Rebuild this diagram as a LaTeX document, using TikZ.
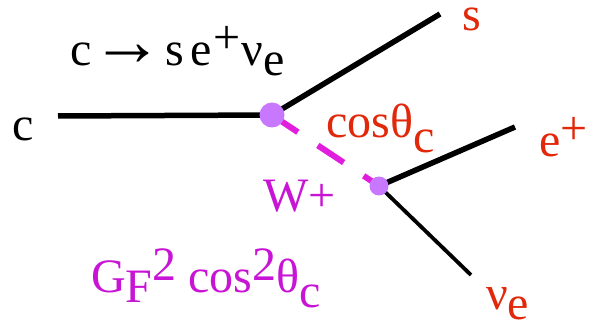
\documentclass[tikz,border=0pt]{standalone}
\usepackage{fontspec}
\setmainfont{Liberation Serif}
\usetikzlibrary{positioning}
\definecolor{quarkred}{RGB}{225,40,10}
\definecolor{wmagenta}{RGB}{200,20,212}
\definecolor{wdash}{RGB}{226,30,222}
\definecolor{vertexviolet}{RGB}{200,120,255}
\newcommand{\suptxt}[1]{\raisebox{12pt}{\fontsize{48}{48}\selectfont #1}}
\newcommand{\subtxt}[2][10pt]{\raisebox{-#1}{\fontsize{48}{48}\selectfont #2}}
\begin{document}
\begin{tikzpicture}[x=1pt,y=-1pt,
    every node/.style={font=\fontsize{48}{48}\selectfont, inner sep=0pt},
    redlabel/.style={text=quarkred},
    maglabel/.style={text=wmagenta},
    fermion/.style={line width=5.5pt, black},
    wline/.style={line width=6pt, wdash, dash pattern=on 31pt off 24pt},
    vertex/.style={circle, fill=vertexviolet, inner sep=0pt}
]
\useasboundingbox (0,0) rectangle (589,323);

\coordinate (cin) at (58,116);
\coordinate (sout) at (440,14);
\coordinate (eout) at (515,127);
\coordinate (nuout) at (471,275);
\coordinate (qc) at (272,115);
\coordinate (wc) at (379,186);

\draw[wline] (qc) -- (wc);
\draw[fermion] (cin) -- (qc);
\draw[fermion] (qc) -- (sout);
\draw[fermion] (wc) -- (eout);
\draw[line width=3.8pt] (wc) -- (nuout);
\node[vertex, minimum size=25pt] (qv) at (qc) {};
\node[vertex, minimum size=19pt] (wv) at (wc) {};

\node[anchor=base west] (clabel) at (12,141) {c};
\node[anchor=base west] (title) at (70,66) {c\scalebox{1.5}{→}\hspace{2pt}s\hspace{6pt}e\hspace{2pt}\suptxt{+}\hspace{1pt}ν\subtxt{e}};
\node[redlabel, anchor=base west] (slabel) at (462,31) {s};
\node[redlabel, anchor=base west] (coslabel) at (326,138) {cosθ\subtxt[15pt]{c}};
\node[redlabel, anchor=base west] (elabel) at (539,157) {e\suptxt{+}};
\node[redlabel, anchor=base west] (nulabel) at (486,309) {ν\subtxt{e}};
\node[maglabel, anchor=base west] (wlabel) at (263,212) {W+};
\node[maglabel, anchor=base west] (rate) at (91,292) {G\subtxt{F}\suptxt{2} cos\suptxt{2}θ\subtxt[15pt]{c}};
\end{tikzpicture}
\end{document}
